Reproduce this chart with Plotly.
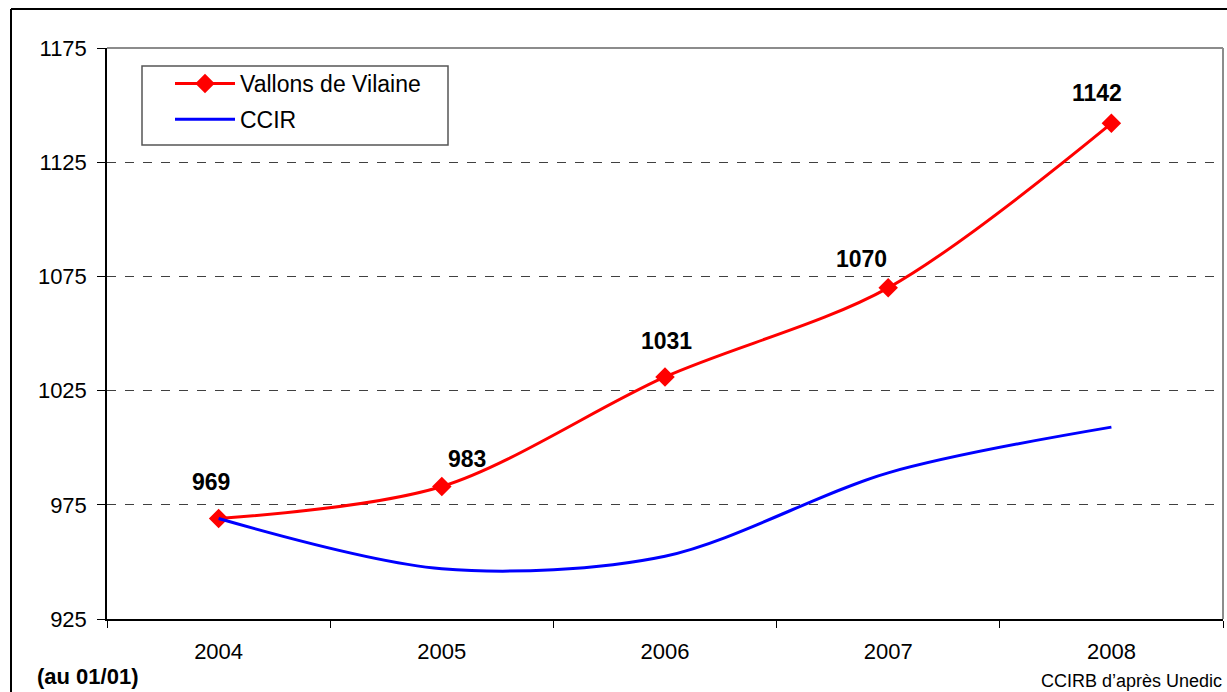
import plotly.graph_objects as go

years = ["2004", "2005", "2006", "2007", "2008"]
vallons = [969, 983, 1031, 1070, 1142]
ccir = [969, 947, 952.5, 989, 1009]
y_ticks = [925, 975, 1025, 1075, 1125, 1175]

# label offsets (px) for the data labels
label_dx = [-8, 25, 1, -27, -14]
label_dy = [-37, -28, -36, -29, -30]

W, H = 1227, 692
L, R, T, B = 107, 4, 48, 73
pw, ph = W - L - R, H - T - B
FONT = "Liberation Sans, Arial, Helvetica, sans-serif"

fig = go.Figure()
fig.add_trace(go.Scatter(
    x=years, y=vallons, name="Vallons de Vilaine", mode="lines+markers",
    line=dict(color="#FF0000", width=3, shape="spline", smoothing=0.9),
    marker=dict(symbol="diamond", size=15, color="#FF0000"),
    legendgroup="a",
))
fig.add_trace(go.Scatter(
    x=years, y=ccir, name="CCIR", mode="lines",
    line=dict(color="#0000FF", width=3, shape="spline", smoothing=0.9),
    legendgroup="b",
))

for i, yv in enumerate(vallons):
    fig.add_annotation(x=i, y=yv, text=f"<b>{yv}</b>", showarrow=False,
                       xref="x", yref="y",
                       xshift=label_dx[i], yshift=-label_dy[i],
                       font=dict(family=FONT, size=23, color="black"))

def px_x(p):
    return (p - L) / pw

def px_y(p):
    return 1 - (p - T) / ph

shapes = [
    # plot area top and right border (grey)
    dict(type="line", xref="paper", yref="paper", x0=0, x1=1, y0=1, y1=1,
         line=dict(color="#8c8c8c", width=2), layer="above"),
    dict(type="line", xref="paper", yref="paper", x0=1, x1=1, y0=0, y1=1,
         line=dict(color="#8c8c8c", width=2), layer="above"),
    # outer frame
    dict(type="line", xref="paper", yref="paper", x0=px_x(11), x1=px_x(1240),
         y0=px_y(9), y1=px_y(9), line=dict(color="black", width=2)),
    dict(type="line", xref="paper", yref="paper", x0=px_x(11), x1=px_x(11),
         y0=px_y(9), y1=px_y(700), line=dict(color="black", width=2)),
    # legend box
    dict(type="rect", xref="paper", yref="paper", x0=px_x(142), x1=px_x(448),
         y0=px_y(145), y1=px_y(66), line=dict(color="#555555", width=1.5),
         fillcolor="white", layer="above"),
]

fig.add_annotation(xref="paper", yref="paper", x=px_x(35), y=px_y(676),
                   text="<b>(au 01/01)</b>", showarrow=False, xanchor="left",
                   yanchor="middle", font=dict(family=FONT, size=22, color="black"))
fig.add_annotation(xref="paper", yref="paper", x=px_x(1224), y=px_y(681),
                   text="CCIRB d\u2019apr\u00e8s Unedic", showarrow=False, xanchor="right",
                   yanchor="middle", font=dict(family=FONT, size=18, color="black"))

fig.update_layout(
    width=W, height=H,
    margin=dict(l=L, r=R, t=T, b=B),
    paper_bgcolor="white", plot_bgcolor="white",
    font=dict(family=FONT, size=22, color="black"),
    shapes=shapes,
    showlegend=True,
    legend=dict(x=px_x(170), y=px_y(62), xanchor="left", yanchor="top",
                bgcolor="rgba(0,0,0,0)", borderwidth=0,
                font=dict(size=23), itemwidth=60, tracegroupgap=3),
    xaxis=dict(type="category", range=[-0.5, 4.5], tickson="boundaries",
               ticks="outside", ticklen=7, tickcolor="black",
               showline=True, linecolor="black", linewidth=1.5,
               showgrid=False, zeroline=False, ticklabelstandoff=12,
               tickfont=dict(size=22)),
    yaxis=dict(range=[925, 1175], tickvals=y_ticks, ticks="outside", ticklen=8,
               tickcolor="black", showline=True, linecolor="black", linewidth=1.5,
               showgrid=True, gridcolor="#404040", griddash="dash", gridwidth=1,
               zeroline=False, ticklabelstandoff=6, tickfont=dict(size=22)),
)

fig.write_html("out.html", config={"displayModeBar": False},
               post_script="document.body.style.margin='0';")
